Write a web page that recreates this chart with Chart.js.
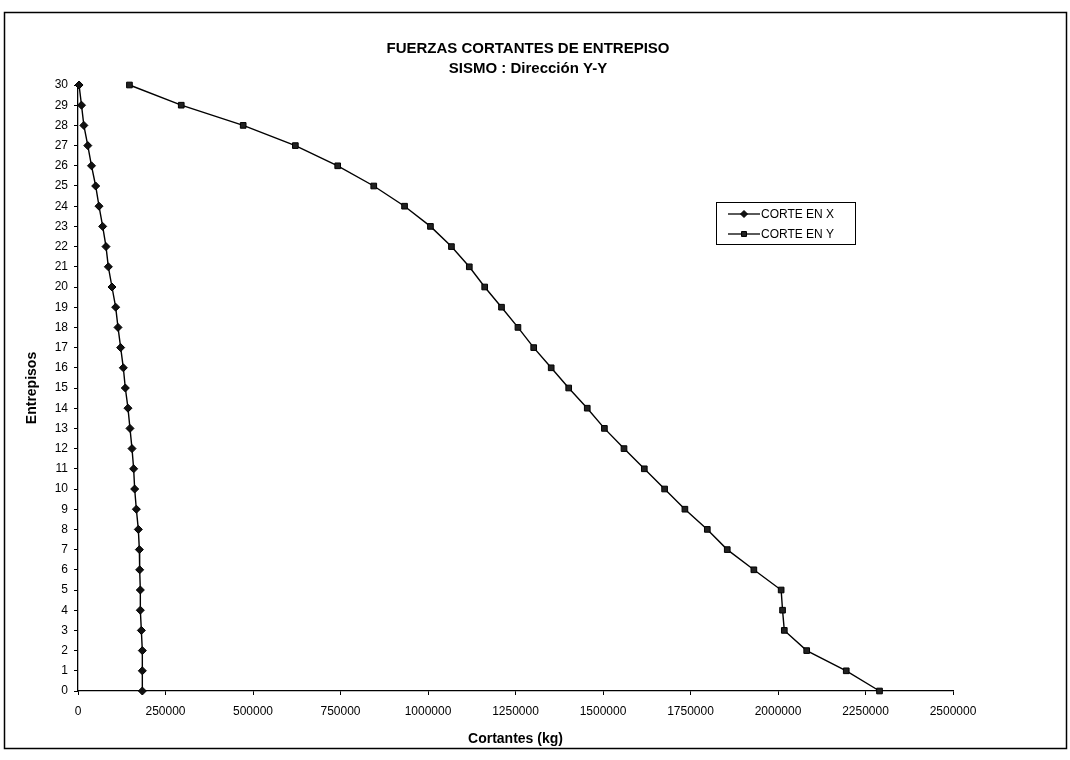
<!DOCTYPE html>
<html>
<head>
<meta charset="utf-8">
<script src="https://cdn.jsdelivr.net/npm/chart.js@4/dist/chart.umd.min.js"></script>
<style>
  html, body { margin: 0; padding: 0; background: #fff; }
  #wrap { width: 1070px; height: 760px; position: relative; }
</style>
</head>
<body>
<div id="wrap"><canvas id="c" width="1070" height="760"></canvas></div>
<script>
// Entrepisos (floor levels), top to bottom
const entrepisos = [30, 29, 28, 27, 26, 25, 24, 23, 22, 21, 20, 19, 18, 17, 16, 15,
                    14, 13, 12, 11, 10, 9, 8, 7, 6, 5, 4, 3, 2, 1, 0];

// Storey shear, X direction (kg)
const corteX = [3000, 10000, 16700, 28000, 38600, 50500, 60000, 70500, 80000, 86700,
                97100, 107600, 114300, 121900, 129500, 135200, 142800, 148500, 154300,
                159000, 161900, 166700, 172400, 175300, 176200, 178100, 178100, 181000,
                183800, 183800, 183800];

// Storey shear, Y direction (kg)
const corteY = [147000, 295000, 472000, 621000, 742000, 845000, 933000, 1007000, 1067000,
                1118000, 1162000, 1210000, 1257000, 1302000, 1352000, 1402000, 1455000,
                1504000, 1560000, 1618000, 1676000, 1734000, 1798000, 1855000, 1931000,
                2009000, 2013000, 2018000, 2082000, 2195000, 2290000];

const seriesNames = ['CORTE EN X', 'CORTE EN Y'];
const titleLines = ['FUERZAS CORTANTES DE ENTREPISO', 'SISMO : Dirección Y-Y'];
const xTitle = 'Cortantes (kg)';
const yTitle = 'Entrepisos';

const toPoints = (vals) => vals.map((v, i) => ({ x: v, y: entrepisos[i] }));

const FONT = '"Liberation Sans", Arial, sans-serif';

// frame around the whole chart plus the two-line heading
const framePlugin = {
  id: 'frame',
  afterDraw(chart) {
    const ctx = chart.ctx;
    ctx.save();
    ctx.strokeStyle = '#000';
    ctx.lineWidth = 1.5;
    ctx.strokeRect(4.5, 12.5, 1062, 736);
    ctx.fillStyle = '#000';
    ctx.font = 'bold 15px ' + FONT;
    ctx.textAlign = 'center';
    ctx.textBaseline = 'middle';
    ctx.fillText(titleLines[0], 528, 49);
    ctx.fillText(titleLines[1], 528, 69);
    ctx.restore();
  }
};

// boxed legend inside the plot area
const boxLegend = {
  id: 'boxLegend',
  afterDraw(chart) {
    const ctx = chart.ctx;
    const x = 716, y = 202, w = 139, h = 42;
    ctx.save();
    ctx.fillStyle = '#fff';
    ctx.fillRect(x, y, w, h);
    ctx.strokeStyle = '#000';
    ctx.lineWidth = 1;
    ctx.strokeRect(x + 0.5, y + 0.5, w, h);
    ctx.font = '12px ' + FONT;
    ctx.textBaseline = 'middle';
    chart.data.datasets.forEach((ds, i) => {
      const cy = y + 12 + i * 20;
      ctx.strokeStyle = '#000';
      ctx.lineWidth = 1.3;
      ctx.beginPath();
      ctx.moveTo(x + 12, cy);
      ctx.lineTo(x + 44, cy);
      ctx.stroke();
      ctx.fillStyle = ds.pointBackgroundColor;
      ctx.strokeStyle = ds.pointBorderColor;
      ctx.lineWidth = 1;
      Chart.helpers.drawPoint(ctx, {
        pointStyle: ds.pointStyle,
        radius: ds.pointRadius - 0.5,
        borderWidth: 1
      }, x + 28, cy);
      ctx.fillStyle = '#000';
      ctx.fillText(ds.label, x + 45, cy + 1);
    });
    ctx.restore();
  }
};

new Chart(document.getElementById('c'), {
  type: 'line',
  data: {
    datasets: [
      {
        label: seriesNames[0],
        data: toPoints(corteX),
        borderColor: '#000',
        borderWidth: 1.4,
        pointStyle: 'rectRot',
        pointRadius: 4,
        pointBackgroundColor: '#111',
        pointBorderColor: '#000',
        pointBorderWidth: 1,
        tension: 0,
        clip: false
      },
      {
        label: seriesNames[1],
        data: toPoints(corteY),
        borderColor: '#000',
        borderWidth: 1.4,
        pointStyle: 'rect',
        pointRadius: 4,
        pointBackgroundColor: '#222',
        pointBorderColor: '#000',
        pointBorderWidth: 1,
        tension: 0,
        clip: false
      }
    ]
  },
  options: {
    responsive: false,
    animation: false,
    layout: { padding: { left: 22, right: 117, top: 85, bottom: 0 } },
    plugins: {
      legend: { display: false },
      tooltip: { enabled: false },
      title: { display: false }
    },
    scales: {
      x: {
        type: 'linear',
        min: 0,
        max: 2500000,
        afterFit(scale) { scale.height = 69; },
        ticks: {
          stepSize: 250000,
          color: '#000',
          padding: 9,
          maxRotation: 0,
          font: { family: FONT, size: 12 },
          callback: (v) => String(v)
        },
        grid: { display: true, drawOnChartArea: false, drawTicks: true, tickLength: 4, color: '#000' },
        border: { display: true, color: '#000', width: 1.3 },
        title: {
          display: true,
          text: xTitle,
          color: '#000',
          font: { family: FONT, size: 14, weight: 'bold' },
          padding: { top: 4, bottom: 12 }
        }
      },
      y: {
        type: 'linear',
        min: 0,
        max: 30,
        afterFit(scale) { scale.width = 56; },
        ticks: {
          stepSize: 1,
          color: '#000',
          padding: 6,
          autoSkip: false,
          font: { family: FONT, size: 12 }
        },
        grid: { display: true, drawOnChartArea: false, drawTicks: true, tickLength: 4, color: '#000' },
        border: { display: true, color: '#000', width: 1.3 },
        title: {
          display: true,
          text: yTitle,
          color: '#000',
          font: { family: FONT, size: 14, weight: 'bold' },
          padding: { top: 2, bottom: 4 }
        }
      }
    }
  },
  plugins: [framePlugin, boxLegend]
});
</script>
</body>
</html>
